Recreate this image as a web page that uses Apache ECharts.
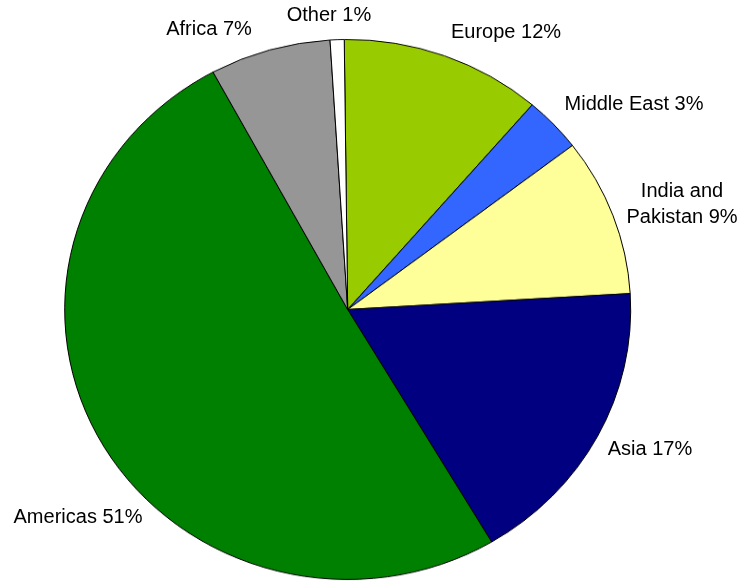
<!DOCTYPE html>
<html>
<head>
<meta charset="utf-8">
<script src="https://cdn.jsdelivr.net/npm/echarts@6/dist/echarts.min.js"></script>
<style>
html,body{margin:0;padding:0;background:#fff;overflow:hidden;}
#wrap{position:relative;width:744px;height:581px;}
#pie{position:absolute;left:0;top:0;width:744px;height:609px;transform:scaleY(0.954);transform-origin:0 0;}
#lab{position:absolute;left:0;top:0;width:744px;height:581px;}
</style>
</head>
<body>
<div id="wrap"><div id="pie"></div><div id="lab"></div></div>
<script>
// Data
const categories = ['Europe', 'Middle East', 'India and Pakistan', 'Asia', 'Americas', 'Africa', 'Other'];
const values = [11.5, 3.3, 9.45, 17.45, 50.6, 6.9, 0.8];
const labelTexts = ['Europe 12%', 'Middle East 3%', 'India and\nPakistan 9%', 'Asia 17%', 'Americas 51%', 'Africa 7%', 'Other 1%'];

// Styles
const colors = ['#99CC00', '#3366FF', '#FFFF99', '#000080', '#008000', '#969696', '#FFFFFF'];
const labelPos = [[506, 32], [634, 104], [682, 204], [650, 449], [78, 517], [209, 29], [329, 15]];
const S = 0.954;

const pie = echarts.init(document.getElementById('pie'), null, {renderer: 'canvas'});
pie.setOption({
  animation: false,
  series: [{
    type: 'pie',
    center: [347.7, 309.5 / S],
    radius: 283,
    startAngle: 90.7,
    clockwise: true,
    label: {show: false},
    labelLine: {show: false},
    emphasis: {disabled: true},
    itemStyle: {borderColor: '#000', borderWidth: 1},
    data: categories.map((c, i) => ({name: c, value: values[i], itemStyle: {color: colors[i]}}))
  }]
});

const lab = echarts.init(document.getElementById('lab'), null, {renderer: 'canvas'});
lab.setOption({
  animation: false,
  graphic: labelTexts.map((t, i) => ({
    type: 'text',
    x: labelPos[i][0],
    y: labelPos[i][1],
    style: {
      text: t,
      fill: '#000',
      font: '20px "Liberation Sans", Arial, sans-serif',
      align: 'center',
      verticalAlign: 'middle',
      lineHeight: 26
    }
  }))
});
</script>
</body>
</html>
